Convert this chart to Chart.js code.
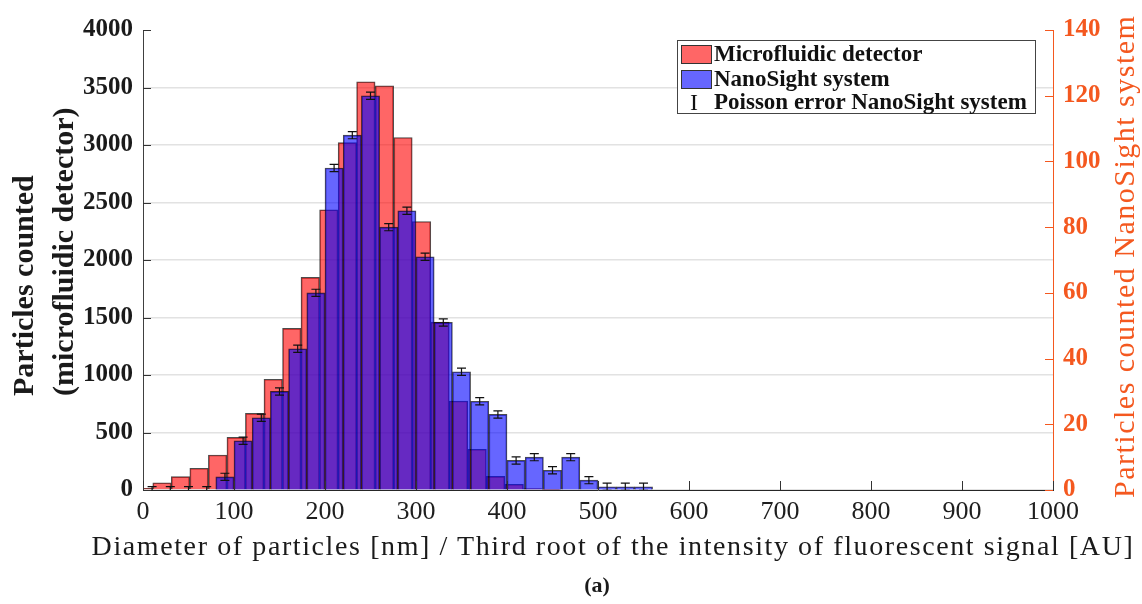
<!DOCTYPE html>
<html>
<head>
<meta charset="utf-8">
<script src="https://cdn.jsdelivr.net/npm/chart.js@4.4.0/dist/chart.umd.min.js"></script>
<style>
  html, body { margin: 0; padding: 0; background: #fff; }
  #wrap { position: relative; width: 1142px; height: 604px; }
  #wrap canvas { position: absolute; left: 0; top: 0; }
  .txt { position: absolute; white-space: pre; font-family: 'Liberation Serif', serif; color: #1a1a1a; }
  #ytitle { left: 3px; top: 396px; transform-origin: 0 0; transform: rotate(-90deg);
            font-weight: bold; font-size: 30px; line-height: 40px; }
  #y1title { left: 1108px; top: 498px; transform-origin: 0 0; transform: rotate(-90deg);
             font-size: 30px; line-height: 31px; letter-spacing: 1.5px; color: #f4581f; }
  #xtitle { left: 0; width: 1226px; top: 531px; text-align: center;
            font-size: 28px; line-height: 30px; letter-spacing: 1.6px; }
  #caption { left: 0; width: 1194px; top: 572px; text-align: center; font-weight: bold; font-size: 22px; }
  #legend { position: absolute; left: 677px; top: 40px; width: 357px; height: 72px;
            border: 1px solid #444; background: #fff; font-family: 'Liberation Serif', serif;
            font-weight: bold; font-size: 23px; color: #111; }
  #legend .row { position: absolute; left: 0; height: 22px; line-height: 22px; white-space: nowrap; }
  #legend .sw { position: absolute; left: 3px; top: 2px; width: 29px; height: 17px; border: 1px solid #333; }
  #legend .lab { position: absolute; left: 36px; top: 0; }
  #legend .bar { position: absolute; left: 12px; top: 0; font-weight: normal; font-size: 24px; }
</style>
</head>
<body>
<div id="wrap">
  <canvas id="chart" width="1142" height="604"></canvas>
  <div class="txt" id="ytitle">Particles counted
(microfluidic detector)</div>
  <div class="txt" id="y1title">Particles counted NanoSight system</div>
  <div class="txt" id="xtitle">Diameter of particles [nm] / Third root of the intensity of fluorescent signal [AU]</div>
  <div class="txt" id="caption">(a)</div>
  <div id="legend">
    <div class="row" style="top:2px"><div class="sw" style="background:rgba(255,0,0,0.6)"></div><span class="lab">Microfluidic detector</span></div>
    <div class="row" style="top:27px"><div class="sw" style="background:rgba(0,0,255,0.6)"></div><span class="lab">NanoSight system</span></div>
    <div class="row" style="top:50px"><span class="bar">I</span><span class="lab">Poisson error NanoSight system</span></div>
  </div>
</div>
<script>
// microfluidic detector histogram (left axis)
const redBins = [0.5, 20.9, 41.2, 61.6, 82.0, 102.4, 122.7, 143.1, 163.5, 183.8, 204.2, 224.6,
                 244.9, 265.3, 285.7, 306.1, 326.4, 346.8, 367.2, 387.5, 407.9, 428.3, 448.6]
const redCounts = [15, 63, 116, 189, 304, 458, 667, 963, 1406, 1849, 2437, 3020,
                   3550, 3515, 3065, 2335, 1460, 774, 354, 118, 50, 12, 5]

// NanoSight histogram (right axis), 20 nm bins
const blueBins = [10, 30, 50, 70, 90, 110, 130, 150, 170, 190, 210, 230, 250, 270,
                  290, 310, 330, 350, 370, 390, 410, 430, 450, 470, 490, 510, 530, 550]
const blueCounts = [0, 0, 0, 0, 4, 15, 22, 30, 43, 60, 98, 108, 120, 80,
                    85, 71, 51, 36, 27, 23, 9, 10, 6, 10, 3, 1, 1, 1]
const blueErr = [1.0, 1.0, 1.0, 1.0, 1.1, 1.1, 1.1, 1.1, 1.1, 1.1, 1.1, 1.1, 1.1, 1.1,
                 1.1, 1.1, 1.1, 1.1, 1.1, 1.1, 1.1, 1.1, 1.1, 1.1, 1.1, 1.1, 1.1, 1.1]

const xTickStep = 100
const leftTickStep = 500
const rightTickStep = 20

const orange = '#f4581f'
const dark = '#1a1a1a'
const plain = v => String(v)

const overlay = {
    id: 'overlay',
    afterDatasetsDraw(chart) {
        const { ctx, chartArea, scales } = chart
        ctx.save()
        ctx.beginPath()
        ctx.rect(chartArea.left, chartArea.top, chartArea.right - chartArea.left, chartArea.bottom - chartArea.top)
        ctx.clip()
        ctx.strokeStyle = '#111'
        ctx.lineWidth = 1.2
        blueBins.forEach((b, i) => {
            const x = scales.x.getPixelForValue(b)
            const lo = scales.y1.getPixelForValue(blueCounts[i] - blueErr[i])
            const hi = scales.y1.getPixelForValue(blueCounts[i] + blueErr[i])
            ctx.beginPath()
            ctx.moveTo(x, lo); ctx.lineTo(x, hi)
            ctx.moveTo(x - 4.5, lo); ctx.lineTo(x + 4.5, lo)
            ctx.moveTo(x - 4.5, hi); ctx.lineTo(x + 4.5, hi)
            ctx.stroke()
        })
        ctx.restore()
    },
    afterDraw(chart) {
        // inward tick marks
        const { ctx, chartArea, scales } = chart
        ctx.save()
        ctx.lineWidth = 1
        ctx.strokeStyle = '#333'
        ctx.beginPath()
        scales.y.ticks.forEach(t => {
            const y = Math.round(scales.y.getPixelForValue(t.value)) + 0.5
            ctx.moveTo(chartArea.left, y); ctx.lineTo(chartArea.left + 8, y)
        })
        scales.x.ticks.forEach(t => {
            const x = Math.round(scales.x.getPixelForValue(t.value)) + 0.5
            ctx.moveTo(x, chartArea.bottom); ctx.lineTo(x, chartArea.bottom - 9)
        })
        ctx.stroke()
        ctx.strokeStyle = orange
        ctx.beginPath()
        scales.y1.ticks.forEach(t => {
            const y = Math.round(scales.y1.getPixelForValue(t.value)) + 0.5
            ctx.moveTo(chartArea.right, y); ctx.lineTo(chartArea.right - 8, y)
        })
        ctx.stroke()
        ctx.restore()
    }
}

const ctx = document.getElementById('chart').getContext('2d')
new Chart(ctx, {
    type: 'bar',
    data: {
        datasets: [{
            label: 'Microfluidic detector',
            data: redBins.map((b, i) => ({ x: b, y: redCounts[i] })),
            xAxisID: 'xr',
            yAxisID: 'y',
            backgroundColor: 'rgba(255,0,0,0.6)',
            borderColor: 'rgba(0,0,0,0.7)',
            borderWidth: 1,
            grouped: false,
            barPercentage: 1,
            categoryPercentage: 1,
            order: 2
        }, {
            label: 'NanoSight system',
            data: blueBins.map((b, i) => ({ x: b, y: blueCounts[i] })),
            xAxisID: 'x',
            yAxisID: 'y1',
            backgroundColor: 'rgba(0,0,255,0.6)',
            borderColor: 'rgba(0,0,0,0.7)',
            borderWidth: 1,
            grouped: false,
            barPercentage: 1,
            categoryPercentage: 1,
            order: 1
        }]
    },
    options: {
        responsive: false,
        animation: false,
        layout: { padding: { top: 30, bottom: 44, left: 0, right: 0 } },
        plugins: { legend: { display: false }, tooltip: { enabled: false } },
        scales: {
            x: {
                type: 'linear', position: 'bottom', min: 0, max: 1000, offset: false,
                ticks: { stepSize: xTickStep, padding: 7, color: '#1e1e1e', callback: plain,
                         font: { family: 'Liberation Serif', size: 26 } },
                grid: { display: true, offset: false, drawOnChartArea: false, drawTicks: false },
                border: { color: '#262626', width: 1, z: 1 },
                afterFit: s => { s.height = 70 }
            },
            xr: { type: 'linear', min: 0, max: 1000, offset: false, grid: { offset: false }, display: false },
            y: {
                position: 'left', min: 0, max: 4000,
                ticks: { stepSize: leftTickStep, padding: 10, color: dark, callback: plain,
                         font: { family: 'Liberation Serif', size: 25, weight: 'bold' } },
                grid: { drawTicks: false, lineWidth: 1.5,
                        color: c => (c.tick && c.tick.value === 4000) ? 'rgba(0,0,0,0)' : '#e2e2e2' },
                border: { color: '#404040', width: 1 },
                afterFit: s => { s.width = 143 }
            },
            y1: {
                position: 'right', min: 0, max: 140,
                ticks: { stepSize: rightTickStep, padding: 10, color: orange, callback: plain,
                         font: { family: 'Liberation Serif', size: 25, weight: 'bold' } },
                grid: { drawOnChartArea: false, drawTicks: false },
                border: { color: orange, width: 1 },
                afterFit: s => { s.width = 89 }
            }
        }
    },
    plugins: [overlay]
})
</script>
</body>
</html>
